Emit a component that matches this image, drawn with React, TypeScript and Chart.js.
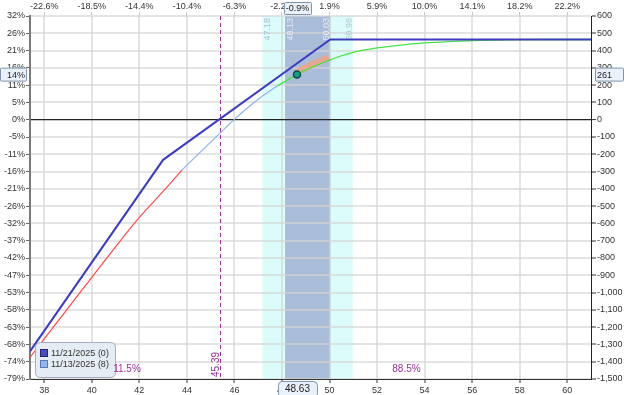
import React, { useEffect, useRef } from 'react';
import { Chart, registerables } from 'chart.js';

Chart.register(...registerables);

// ---------- data ----------
const xMin = 37.4;
const xMax = 61;
const yMin = -1500;
const yMax = 600;

const xTickValues = [38, 40, 42, 44, 46, 48, 50, 52, 54, 56, 58, 60];
const topPctLabels = ['-22.6%', '-18.5%', '-14.4%', '-10.4%', '-6.3%', '-2.2%', '1.9%', '5.9%', '10.0%', '14.1%', '18.2%', '22.2%'];

const yTickValues = [600, 500, 400, 300, 200, 100, 0, -100, -200, -300, -400, -500, -600, -700, -800, -900, -1000, -1100, -1200, -1300, -1400, -1500];
const leftPctLabels = ['32%', '26%', '21%', '16%', '11%', '5%', '0%', '-5%', '-11%', '-16%', '-21%', '-26%', '-32%', '-37%', '-42%', '-47%', '-53%', '-58%', '-63%', '-68%', '-74%', '-79%'];

// expiration P&L (11/21/2025)
const expiryX = [37.4, 43, 50.03, 61];
const expiryY = [-1340, -232, 464, 464];

// T+0 P&L (11/13/2025)
const t0X = [37.4, 39, 41, 42, 43, 43.8, 45, 46, 47, 47.8, 48.63, 49, 50, 50.5, 51, 52, 53, 54, 55, 56, 57, 58, 59, 61];
const t0Y = [-1375, -1090, -735, -565, -415, -290, -130, 2, 118, 195, 261, 288, 345, 370, 390, 415, 432, 444, 452, 458, 461, 463, 464, 464];
const redEnd = 43.8;
const greenStart = 47.8;

// highlighted band near current price
const bandX = [48.6, 49.3, 49.97];
const bandY = [275, 320, 360];

const currentPrice = 48.63;
const currentPnl = 261;
const currentPnlPct = '14%';
const currentMovePct = '-0.9%';
const breakeven = 45.39;
const sigma1 = [48.13, 50.03];
const sigma2 = [47.18, 50.98];
const probBelow = '11.5%';
const probAbove = '88.5%';
const legendLabels = ['11/21/2025 (0)', '11/13/2025 (8)'];

// ---------- styles ----------
const FONT = '"Liberation Sans", Arial, sans-serif';
const TEXT = '#333333';
const GRID = 'rgba(212,212,212,0.62)';
const PURPLE = '#9c2f9c';

const pts = (xs: number[], ys: number[]) => xs.map((x, i) => ({ x, y: ys[i] }));
const t0Pts = pts(t0X, t0Y);

function roundRect(ctx: CanvasRenderingContext2D, x: number, y: number, w: number, h: number, r: number) {
  ctx.beginPath();
  ctx.moveTo(x + r, y);
  ctx.lineTo(x + w - r, y);
  ctx.quadraticCurveTo(x + w, y, x + w, y + r);
  ctx.lineTo(x + w, y + h - r);
  ctx.quadraticCurveTo(x + w, y + h, x + w - r, y + h);
  ctx.lineTo(x + r, y + h);
  ctx.quadraticCurveTo(x, y + h, x, y + h - r);
  ctx.lineTo(x, y + r);
  ctx.quadraticCurveTo(x, y, x + r, y);
  ctx.closePath();
}

const overlay = {
  id: 'overlay',
  beforeDraw(chart: any) {
    const { ctx, chartArea: a, scales } = chart;
    const x = scales.x;
    ctx.save();
    ctx.fillStyle = '#ffffff';
    ctx.fillRect(0, 0, chart.width, chart.height);
    const c1 = x.getPixelForValue(sigma2[0]);
    const c2 = x.getPixelForValue(sigma2[1]);
    ctx.fillStyle = '#dcfcfc';
    ctx.fillRect(c1, a.top, c2 - c1, a.bottom - a.top);
    const b1 = x.getPixelForValue(sigma1[0]);
    const b2 = x.getPixelForValue(sigma1[1]);
    ctx.fillStyle = '#aabdd8';
    ctx.fillRect(b1, a.top, b2 - b1, a.bottom - a.top);
    ctx.restore();
  },
  beforeDatasetsDraw(chart: any) {
    const { ctx, chartArea: a, scales } = chart;
    const x = scales.x;
    ctx.save();
    // breakeven dashed line
    const bx = Math.round(x.getPixelForValue(breakeven)) + 0.5;
    ctx.strokeStyle = PURPLE;
    ctx.lineWidth = 1;
    ctx.setLineDash([4, 3]);
    ctx.beginPath();
    ctx.moveTo(bx, a.top);
    ctx.lineTo(bx, a.bottom);
    ctx.stroke();
    ctx.setLineDash([]);

    // sigma labels (rotated)
    ctx.font = `9px ${FONT}`;
    ctx.textBaseline = 'middle';
    const rot = (txt: string, px: number, py: number, color: string, align: CanvasTextAlign) => {
      ctx.save();
      ctx.translate(px, py);
      ctx.rotate(-Math.PI / 2);
      ctx.fillStyle = color;
      ctx.textAlign = align;
      ctx.fillText(txt, 0, 0);
      ctx.restore();
    };
    rot(sigma2[0].toFixed(2), x.getPixelForValue(sigma2[0]) + 5.5, a.top + 2, '#a9c2cf', 'right');
    rot(sigma1[0].toFixed(2), x.getPixelForValue(sigma1[0]) + 5.5, a.top + 2, '#e4ecf5', 'right');
    rot(sigma1[1].toFixed(2), x.getPixelForValue(sigma1[1]) - 3.5, a.top + 2, '#e4ecf5', 'right');
    rot(sigma2[1].toFixed(2), x.getPixelForValue(sigma2[1]) - 3, a.top + 2, '#b4c8d2', 'right');

    // breakeven label
    ctx.font = `10px ${FONT}`;
    rot(breakeven.toFixed(2), bx - 4, a.bottom - 2, PURPLE, 'left');
    ctx.restore();
  },
  afterDraw(chart: any) {
    const { ctx, chartArea: a, scales } = chart;
    const x = scales.x;
    const y = scales.y;
    ctx.save();
    ctx.font = `9px ${FONT}`;
    ctx.textBaseline = 'middle';

    // legend
    const lx = a.left + 5;
    const ly = a.bottom - 37;
    roundRect(ctx, lx + 0.5, ly + 0.5, 80, 35, 5);
    ctx.fillStyle = '#e6ecf4';
    ctx.fill();
    ctx.strokeStyle = '#a2adbd';
    ctx.lineWidth = 1;
    ctx.stroke();
    const sq = [
      { fill: '#4a4ab8', stroke: '#26267a' },
      { fill: '#92b5f0', stroke: '#5a78b4' },
    ];
    legendLabels.forEach((lab, i) => {
      const cy = ly + 11 + i * 11;
      ctx.fillStyle = sq[i].fill;
      ctx.fillRect(lx + 6, cy - 3, 6, 6);
      ctx.strokeStyle = sq[i].stroke;
      ctx.strokeRect(lx + 5.5, cy - 3.5, 7, 7);
      ctx.fillStyle = TEXT;
      ctx.textAlign = 'left';
      ctx.fillText(lab, lx + 16, cy + 0.5);
    });

    // probability labels
    const bx = x.getPixelForValue(breakeven);
    ctx.font = `10px ${FONT}`;
    ctx.fillStyle = PURPLE;
    ctx.textAlign = 'center';
    ctx.fillText(probBelow, (a.left + bx) / 2 + 2, a.bottom - 10);
    ctx.fillText(probAbove, (bx + a.right) / 2 + 1, a.bottom - 10);

    // value boxes
    ctx.font = `9px ${FONT}`;
    const py = y.getPixelForValue(currentPnl);
    const px = x.getPixelForValue(currentPrice);
    const box = (bx0: number, by: number, w: number, h: number, r: number) => {
      roundRect(ctx, bx0 + 0.5, by + 0.5, w, h, r);
      ctx.fillStyle = '#eaf1fa';
      ctx.fill();
      ctx.strokeStyle = '#7d93ad';
      ctx.lineWidth = 1;
      ctx.stroke();
    };
    // left
    box(0, py - 7, a.left - 4, 13, 1);
    ctx.fillStyle = '#222';
    ctx.textAlign = 'right';
    ctx.fillText(currentPnlPct, a.left - 5, py + 0.5);
    // right
    box(a.right + 4, py - 7, chart.width - a.right - 5, 13, 1);
    ctx.textAlign = 'left';
    ctx.fillStyle = '#222';
    ctx.fillText(String(currentPnl), a.right + 6, py + 0.5);
    // top
    box(px - 13, 2, 27, 12, 1);
    ctx.textAlign = 'center';
    ctx.fillStyle = '#222';
    ctx.fillText(currentMovePct, px + 0.5, 8.5);
    // bottom
    box(px - 19, a.bottom + 2, 39, 16, 4);
    ctx.fillStyle = '#222';
    ctx.font = `10px ${FONT}`;
    ctx.fillText(currentPrice.toFixed(2), px + 0.5, a.bottom + 10.5);
    ctx.restore();
  },
};

const tickFont = { family: FONT, size: 9 };

export default function App() {
  const ref = useRef<HTMLCanvasElement | null>(null);

  useEffect(() => {
    if (!ref.current) return;
    const lineDs = (data: any[], color: string, width: number, order: number, smooth: boolean) => ({
      type: 'line' as const,
      data,
      borderColor: color,
      backgroundColor: color,
      borderWidth: width,
      pointRadius: 0,
      fill: false,
      order,
      cubicInterpolationMode: smooth ? ('monotone' as const) : ('default' as const),
      tension: 0,
    });

    const chart = new Chart(ref.current, {
      type: 'line',
      data: {
        datasets: [
          {
            type: 'scatter',
            data: [{ x: currentPrice, y: currentPnl }],
            backgroundColor: '#1f9a8e',
            borderColor: '#0c4a48',
            borderWidth: 1.5,
            pointRadius: 3.5,
            order: 0,
          } as any,
          lineDs(pts(expiryX, expiryY), '#3e3ebd', 2, 1, false),
          lineDs(t0Pts.filter((p) => p.x <= redEnd), '#ff4a4a', 1.2, 2, true),
          lineDs(t0Pts.filter((p) => p.x >= redEnd && p.x <= greenStart), '#8fb2f2', 1.2, 2, true),
          lineDs(t0Pts.filter((p) => p.x >= greenStart), '#45e245', 1.3, 2, true),
          lineDs(pts(bandX, bandY), 'rgba(245,160,125,0.75)', 7, 3, false),
        ],
      },
      options: {
        responsive: false,
        devicePixelRatio: 1,
        animation: false,
        parsing: false as any,
        layout: { padding: 0 },
        plugins: { legend: { display: false }, tooltip: { enabled: false } },
        scales: {
          x: {
            type: 'linear',
            position: 'bottom',
            min: xMin,
            max: xMax,
            afterBuildTicks: (s: any) => {
              s.ticks = xTickValues.map((v) => ({ value: v }));
            },
            afterFit: (s: any) => {
              s.height = 16;
            },
            grid: { color: GRID, lineWidth: 2, tickLength: 4, tickColor: '#333', tickWidth: 1 },
            border: { color: '#333', width: 1 },
            ticks: { font: tickFont, color: TEXT, padding: 2, maxRotation: 0, autoSkip: false },
          },
          x2: {
            type: 'linear',
            position: 'top',
            min: xMin,
            max: xMax,
            afterBuildTicks: (s: any) => {
              s.ticks = xTickValues.map((v) => ({ value: v }));
            },
            afterFit: (s: any) => {
              s.height = 16;
            },
            grid: { drawOnChartArea: false, tickLength: 4, tickColor: '#c8c8c8', tickWidth: 1 },
            border: { display: false },
            ticks: {
              font: tickFont,
              color: TEXT,
              padding: 0,
              maxRotation: 0,
              autoSkip: false,
              callback: (v: any) => topPctLabels[xTickValues.indexOf(Number(v))],
            },
          },
          yl: {
            type: 'linear',
            position: 'left',
            min: yMin,
            max: yMax,
            afterBuildTicks: (s: any) => {
              s.ticks = yTickValues.slice().reverse().map((v) => ({ value: v }));
            },
            afterFit: (s: any) => {
              s.width = 30;
            },
            grid: { drawOnChartArea: false, tickLength: 4, tickColor: '#666', tickWidth: 1 },
            border: { color: '#7a7a7a', width: 2 },
            ticks: {
              font: tickFont,
              color: TEXT,
              padding: 1,
              autoSkip: false,
              callback: (v: any) => leftPctLabels[yTickValues.indexOf(Number(v))],
            },
          },
          y: {
            type: 'linear',
            position: 'right',
            min: yMin,
            max: yMax,
            afterBuildTicks: (s: any) => {
              s.ticks = yTickValues.slice().reverse().map((v) => ({ value: v }));
            },
            afterFit: (s: any) => {
              s.width = 33;
            },
            grid: {
              color: (c: any) => (c.tick && c.tick.value === 0 ? '#222' : GRID),
              lineWidth: (c: any) => (c.tick && c.tick.value === 0 ? 1.2 : 2),
              tickLength: 5,
              tickColor: '#333',
              tickWidth: 1,
            },
            border: { color: '#222', width: 1 },
            ticks: {
              font: tickFont,
              color: TEXT,
              padding: 1,
              autoSkip: false,
              callback: (v: any) => Number(v).toLocaleString('en-US'),
            },
          },
        },
      } as any,
      plugins: [overlay],
    });
    return () => chart.destroy();
  }, []);

  return (
    <div style={{ position: 'fixed', left: 0, top: 0, width: 624, height: 395, background: '#fff' }}>
      <canvas ref={ref} width={624} height={395} style={{ display: 'block', width: 624, height: 395 }} />
    </div>
  );
}
